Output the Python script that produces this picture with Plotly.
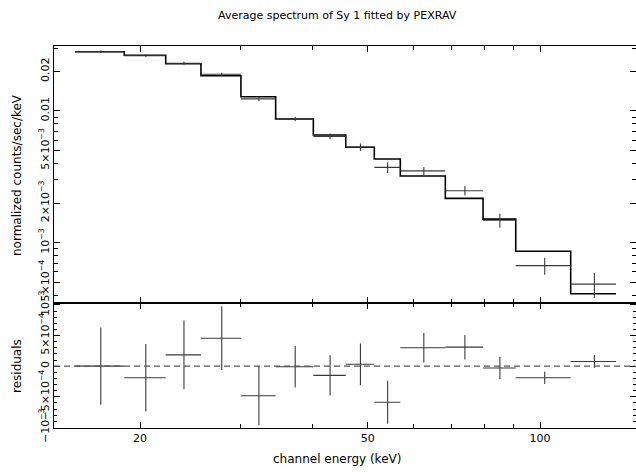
import plotly.graph_objects as go

# channel bins (keV)
bin_lo = [15.39, 18.77, 22.18, 25.56, 30.02, 34.52, 40.17, 45.77, 51.34, 57.00, 68.32, 79.52, 90.70, 113.14]
bin_hi = [18.77, 22.18, 25.56, 30.02, 34.52, 40.17, 45.77, 51.34, 57.00, 68.32, 79.52, 90.70, 113.14, 135.77]
# model (normalized counts/sec/keV)
model = [0.02819, 0.02648, 0.02287, 0.01854, 0.01284, 0.00870, 0.00657, 0.00530,
         0.00432, 0.00321, 0.00217, 0.00151, 0.00086, 0.000410]
# residuals (data - model) and 1-sigma errors
resid = [0.0, -1.9e-4, 1.84e-4, 4.56e-4, -4.84e-4, -1.0e-5, -1.5e-4, 3.0e-5,
         -5.9e-4, 3.0e-4, 3.1e-4, -3.0e-5, -1.9e-4, 7.5e-5]
err = [6.3e-4, 5.5e-4, 5.6e-4, 5.2e-4, 4.8e-4, 3.4e-4, 3.3e-4, 3.4e-4,
       3.5e-4, 2.4e-4, 2.0e-4, 1.8e-4, 1.0e-4, 1.05e-4]

x_tick_vals = [20, 50, 100]
x_tick_text = ["20", "50", "100"]
x_minor_vals = [30, 40, 60, 70, 80, 90]
y1_tick_vals = [0.02, 0.01, 0.005, 0.002, 0.001, 0.0005]
y1_tick_text = ["0.02", "0.01", "5×10<sup>−3</sup>", "2×10<sup>−3</sup>",
                "10<sup>−3</sup>", "5×10<sup>−4</sup>"]
y1_minor_vals = [0.03, 0.009, 0.008, 0.007, 0.006, 0.004, 0.003,
                 0.0009, 0.0008, 0.0007, 0.0006, 0.0004]
y2_tick_vals = [-1e-3, -5e-4, 0, 5e-4, 1e-3]
y2_tick_text = ["−10<sup>−3</sup>", "−5×10<sup>−4</sup>", "0",
                "5×10<sup>−4</sup>", "10<sup>−3</sup>"]

centers = [(a + b) / 2 for a, b in zip(bin_lo, bin_hi)]
data = [m + r for m, r in zip(model, resid)]
ex_plus = [b - c for b, c in zip(bin_hi, centers)]
ex_minus = [c - a for a, c in zip(bin_lo, centers)]

W, H = 636, 472
ML, MR, MT, MB = 54, 0, 46, 44
sep = 302.5
pw = W - ML - MR
ph = H - MT - MB
split = (H - MB - sep) / ph

FONT = "DejaVu Sans"
DCOL = "#3a3a3a"

fig = go.Figure()

# model step
fig.add_trace(go.Scatter(
    x=bin_lo + [bin_hi[-1]], y=model + [model[-1]],
    mode="lines", line=dict(color="black", width=1.6, shape="hv"),
    xaxis="x", yaxis="y", showlegend=False, hoverinfo="skip"))

# data crosses (top)
fig.add_trace(go.Scatter(
    x=centers, y=data, mode="markers",
    marker=dict(size=1, color="rgba(0,0,0,0)"),
    error_x=dict(type="data", symmetric=False, array=ex_plus, arrayminus=ex_minus,
                 width=0, thickness=1.1, color=DCOL),
    error_y=dict(type="data", array=err, width=0, thickness=1.1, color=DCOL),
    xaxis="x", yaxis="y", showlegend=False))

# residual crosses
fig.add_trace(go.Scatter(
    x=centers, y=resid, mode="markers",
    marker=dict(size=1, color="rgba(0,0,0,0)"),
    error_x=dict(type="data", symmetric=False, array=ex_plus, arrayminus=ex_minus,
                 width=0, thickness=1.1, color=DCOL),
    error_y=dict(type="data", array=err, width=0, thickness=1.1, color=DCOL),
    xaxis="x2", yaxis="y2", showlegend=False))

axis_common = dict(showline=True, linecolor="black", linewidth=1, mirror="allticks",
                   ticks="inside", tickcolor="black", showgrid=False, zeroline=False)

xrange_ = [1.15076, 2.16774]
fig.update_layout(
    width=W, height=H, margin=dict(l=ML, r=MR, t=MT, b=MB),
    paper_bgcolor="white", plot_bgcolor="white",
    font=dict(family=FONT, size=11, color="black"),
    xaxis=dict(domain=[0, 1], anchor="y", type="log", range=xrange_,
               tickmode="array", tickvals=x_tick_vals, ticktext=x_tick_text,
               showticklabels=False, ticklen=6,
               minor=dict(tickmode="array", tickvals=x_minor_vals, ticks="inside",
                          ticklen=4, tickcolor="black"),
               **axis_common),
    xaxis2=dict(domain=[0, 1], anchor="y2", type="log", range=xrange_,
                tickmode="array", tickvals=x_tick_vals, ticktext=x_tick_text,
                ticklen=6, tickfont=dict(size=11),
                minor=dict(tickmode="array", tickvals=x_minor_vals, ticks="inside",
                           ticklen=4, tickcolor="black"),
                **axis_common),
    yaxis=dict(domain=[split, 1], anchor="x", type="log", range=[-3.4541, -1.5065],
               tickmode="array", tickvals=y1_tick_vals, ticktext=y1_tick_text,
               tickangle=-90, ticklen=6, tickfont=dict(size=11),
               minor=dict(tickmode="array", tickvals=y1_minor_vals, ticks="inside",
                          ticklen=4, tickcolor="black"),
               **axis_common),
    yaxis2=dict(domain=[0, split], anchor="x2", range=[-1.0098e-3, 1.039e-3],
                tickmode="array", tickvals=y2_tick_vals, ticktext=y2_tick_text,
                tickangle=-90, ticklen=6, tickfont=dict(size=11),
                minor=dict(tickmode="linear", tick0=0, dtick=1e-4, ticks="inside",
                           ticklen=3, tickcolor="black"),
                **axis_common),
)

fig.add_shape(type="line", xref="x2 domain", x0=0, x1=1, yref="y2", y0=0, y1=0,
              line=dict(color="#555555", width=1.2, dash="6px,4px"))

def px_x(px):
    return (px - ML) / pw

def px_y(py):
    return (H - MB - py) / ph

fig.add_annotation(text="Average spectrum of Sy 1 fitted by PEXRAV",
                   xref="paper", yref="paper", x=px_x(337.5), y=px_y(15),
                   showarrow=False, xanchor="center", yanchor="middle",
                   font=dict(size=11))
fig.add_annotation(text="channel energy (keV)",
                   xref="paper", yref="paper", x=px_x(337), y=px_y(459),
                   showarrow=False, xanchor="center", yanchor="middle",
                   font=dict(size=12))
fig.add_annotation(text="normalized counts/sec/keV", textangle=-90,
                   xref="paper", yref="paper", x=px_x(17), y=px_y(175),
                   showarrow=False, xanchor="center", yanchor="middle",
                   font=dict(size=12))
fig.add_annotation(text="residuals", textangle=-90,
                   xref="paper", yref="paper", x=px_x(17), y=px_y(366),
                   showarrow=False, xanchor="center", yanchor="middle",
                   font=dict(size=12))

fig.write_html("out.html")
